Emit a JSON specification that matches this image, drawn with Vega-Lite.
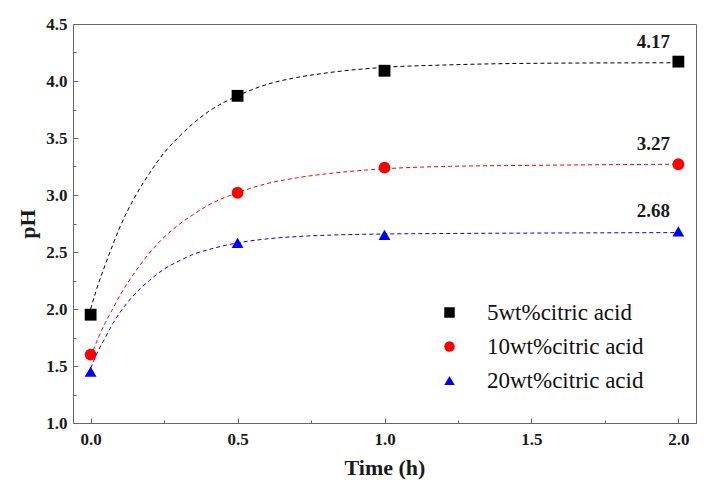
{
  "$schema": "https://vega.github.io/schema/vega-lite/v6.json",
  "width": 623,
  "height": 399,
  "autosize": {"type": "none"},
  "padding": {"left": 73, "top": 24, "right": 16, "bottom": 72},
  "background": "white",
  "config": {
    "view": {"stroke": "#666", "strokeWidth": 1},
    "font": "Liberation Serif",
    "axis": {
      "grid": false,
      "domainColor": "#666",
      "tickColor": "#666",
      "labelFlush": false,
      "labelFont": "Liberation Serif",
      "labelFontSize": 17,
      "labelFontWeight": "bold",
      "labelColor": "#1a1a1a",
      "titleFont": "Liberation Serif",
      "titleFontSize": 22,
      "titleFontWeight": "bold",
      "titleColor": "#1a1a1a"
    }
  },
  "datasets": {
    "points": [
      {"series": "5wt%citric acid", "t": 0, "ph": 1.95},
      {"series": "5wt%citric acid", "t": 0.5, "ph": 3.87},
      {"series": "5wt%citric acid", "t": 1, "ph": 4.09},
      {"series": "5wt%citric acid", "t": 2, "ph": 4.17},
      {"series": "10wt%citric acid", "t": 0, "ph": 1.60},
      {"series": "10wt%citric acid", "t": 0.5, "ph": 3.02},
      {"series": "10wt%citric acid", "t": 1, "ph": 3.24},
      {"series": "10wt%citric acid", "t": 2, "ph": 3.27},
      {"series": "20wt%citric acid", "t": 0, "ph": 1.45},
      {"series": "20wt%citric acid", "t": 0.5, "ph": 2.58},
      {"series": "20wt%citric acid", "t": 1, "ph": 2.65},
      {"series": "20wt%citric acid", "t": 2, "ph": 2.68}
    ],
    "fit": [
      {"series": "5wt%citric acid", "t": 0, "ph": 2.00},
      {"series": "5wt%citric acid", "t": 0.025, "ph": 2.21},
      {"series": "5wt%citric acid", "t": 0.05, "ph": 2.39},
      {"series": "5wt%citric acid", "t": 0.075, "ph": 2.56},
      {"series": "5wt%citric acid", "t": 0.1, "ph": 2.72},
      {"series": "5wt%citric acid", "t": 0.15, "ph": 2.98},
      {"series": "5wt%citric acid", "t": 0.2, "ph": 3.19},
      {"series": "5wt%citric acid", "t": 0.25, "ph": 3.37},
      {"series": "5wt%citric acid", "t": 0.3, "ph": 3.51},
      {"series": "5wt%citric acid", "t": 0.35, "ph": 3.63},
      {"series": "5wt%citric acid", "t": 0.4, "ph": 3.73},
      {"series": "5wt%citric acid", "t": 0.5, "ph": 3.87},
      {"series": "5wt%citric acid", "t": 0.6, "ph": 3.97},
      {"series": "5wt%citric acid", "t": 0.7, "ph": 4.03},
      {"series": "5wt%citric acid", "t": 0.8, "ph": 4.07},
      {"series": "5wt%citric acid", "t": 1.0, "ph": 4.12},
      {"series": "5wt%citric acid", "t": 1.2, "ph": 4.14},
      {"series": "5wt%citric acid", "t": 1.5, "ph": 4.155},
      {"series": "5wt%citric acid", "t": 2.0, "ph": 4.16},
      {"series": "10wt%citric acid", "t": 0, "ph": 1.58},
      {"series": "10wt%citric acid", "t": 0.025, "ph": 1.74},
      {"series": "10wt%citric acid", "t": 0.05, "ph": 1.88},
      {"series": "10wt%citric acid", "t": 0.075, "ph": 2.00},
      {"series": "10wt%citric acid", "t": 0.1, "ph": 2.12},
      {"series": "10wt%citric acid", "t": 0.15, "ph": 2.32},
      {"series": "10wt%citric acid", "t": 0.2, "ph": 2.49},
      {"series": "10wt%citric acid", "t": 0.25, "ph": 2.63},
      {"series": "10wt%citric acid", "t": 0.3, "ph": 2.74},
      {"series": "10wt%citric acid", "t": 0.35, "ph": 2.83},
      {"series": "10wt%citric acid", "t": 0.4, "ph": 2.91},
      {"series": "10wt%citric acid", "t": 0.5, "ph": 3.02},
      {"series": "10wt%citric acid", "t": 0.6, "ph": 3.10},
      {"series": "10wt%citric acid", "t": 0.7, "ph": 3.15},
      {"series": "10wt%citric acid", "t": 0.8, "ph": 3.185},
      {"series": "10wt%citric acid", "t": 1.0, "ph": 3.23},
      {"series": "10wt%citric acid", "t": 1.2, "ph": 3.25},
      {"series": "10wt%citric acid", "t": 1.5, "ph": 3.26},
      {"series": "10wt%citric acid", "t": 2.0, "ph": 3.27},
      {"series": "20wt%citric acid", "t": 0, "ph": 1.48},
      {"series": "20wt%citric acid", "t": 0.025, "ph": 1.63},
      {"series": "20wt%citric acid", "t": 0.05, "ph": 1.75},
      {"series": "20wt%citric acid", "t": 0.075, "ph": 1.87},
      {"series": "20wt%citric acid", "t": 0.1, "ph": 1.97},
      {"series": "20wt%citric acid", "t": 0.15, "ph": 2.13},
      {"series": "20wt%citric acid", "t": 0.2, "ph": 2.25},
      {"series": "20wt%citric acid", "t": 0.25, "ph": 2.35},
      {"series": "20wt%citric acid", "t": 0.3, "ph": 2.42},
      {"series": "20wt%citric acid", "t": 0.35, "ph": 2.48},
      {"series": "20wt%citric acid", "t": 0.4, "ph": 2.52},
      {"series": "20wt%citric acid", "t": 0.5, "ph": 2.58},
      {"series": "20wt%citric acid", "t": 0.6, "ph": 2.615},
      {"series": "20wt%citric acid", "t": 0.7, "ph": 2.635},
      {"series": "20wt%citric acid", "t": 0.8, "ph": 2.647},
      {"series": "20wt%citric acid", "t": 1.0, "ph": 2.658},
      {"series": "20wt%citric acid", "t": 1.2, "ph": 2.662},
      {"series": "20wt%citric acid", "t": 1.5, "ph": 2.666},
      {"series": "20wt%citric acid", "t": 2.0, "ph": 2.67}
    ]
  },
  "layer": [
    {
      "data": {"name": "fit"},
      "transform": [{"filter": "datum.series === '5wt%citric acid'"}],
      "mark": {"type": "line", "interpolate": "monotone", "strokeDash": [4, 3], "strokeWidth": 1, "stroke": "#000000"},
      "encoding": {
        "x": {
          "field": "t", "type": "quantitative",
          "scale": {"domain": [-0.06, 2.06], "nice": false, "zero": false},
          "axis": {"orient": "bottom", "values": [0, 0.5, 1, 1.5, 2], "format": ".1f", "tickSize": -5, "labelPadding": 13, "title": "Time (h)", "titlePadding": 10}
        },
        "y": {
          "field": "ph", "type": "quantitative",
          "scale": {"domain": [1, 4.5], "nice": false, "zero": false},
          "axis": {"orient": "left", "values": [1, 1.5, 2, 2.5, 3, 3.5, 4, 4.5], "format": ".1f", "tickSize": -5, "labelPadding": 11, "title": "pH", "titlePadding": 6}
        }
      }
    },
    {
      "data": {"name": "fit"},
      "transform": [{"filter": "datum.series === '10wt%citric acid'"}],
      "mark": {"type": "line", "interpolate": "monotone", "strokeDash": [4, 3], "strokeWidth": 1, "stroke": "#ff0000"},
      "encoding": {
        "x": {"field": "t", "type": "quantitative", "scale": {"domain": [-0.06, 2.06], "nice": false, "zero": false}, "axis": null},
        "y": {"field": "ph", "type": "quantitative", "scale": {"domain": [1, 4.5], "nice": false, "zero": false}, "axis": null}
      }
    },
    {
      "data": {"name": "fit"},
      "transform": [{"filter": "datum.series === '20wt%citric acid'"}],
      "mark": {"type": "line", "interpolate": "monotone", "strokeDash": [4, 3], "strokeWidth": 1, "stroke": "#0000ff"},
      "encoding": {
        "x": {"field": "t", "type": "quantitative", "scale": {"domain": [-0.06, 2.06], "nice": false, "zero": false}, "axis": null},
        "y": {"field": "ph", "type": "quantitative", "scale": {"domain": [1, 4.5], "nice": false, "zero": false}, "axis": null}
      }
    },
    {
      "data": {"name": "points"},
      "mark": {"type": "point", "filled": true, "size": 140, "opacity": 1},
      "encoding": {
        "x": {
          "field": "t", "type": "quantitative",
          "scale": {"domain": [-0.06, 2.06], "nice": false, "zero": false},
          "axis": {"orient": "bottom", "values": [0.25, 0.75, 1.25, 1.75], "labels": false, "domain": false, "tickSize": -3, "title": null}
        },
        "y": {
          "field": "ph", "type": "quantitative",
          "scale": {"domain": [1, 4.5], "nice": false, "zero": false},
          "axis": {"orient": "left", "values": [1.25, 1.75, 2.25, 2.75, 3.25, 3.75, 4.25], "labels": false, "domain": false, "tickSize": -3, "title": null}
        },
        "color": {
          "field": "series", "type": "nominal",
          "scale": {"domain": ["5wt%citric acid", "10wt%citric acid", "20wt%citric acid"], "range": ["#000000", "#ff0000", "#0000ff"]},
          "legend": {"title": null, "orient": "none", "legendX": 365, "legendY": 277, "labelFont": "Liberation Serif", "labelFontSize": 23, "labelColor": "#111", "labelOffset": 26, "rowPadding": 10, "symbolSize": 110}
        },
        "shape": {
          "field": "series", "type": "nominal",
          "scale": {"domain": ["5wt%citric acid", "10wt%citric acid", "20wt%citric acid"], "range": ["square", "circle", "triangle-up"]},
          "legend": {"title": null, "orient": "none", "legendX": 365, "legendY": 277, "labelFont": "Liberation Serif", "labelFontSize": 23, "labelColor": "#111", "labelOffset": 26, "rowPadding": 10, "symbolSize": 110}
        }
      }
    },
    {
      "data": {"name": "points"},
      "transform": [{"filter": "datum.t == 2"}],
      "mark": {"type": "text", "dx": -25, "dy": -20, "font": "Liberation Serif", "fontSize": 19, "fontWeight": "bold", "color": "#1a1a1a"},
      "encoding": {
        "x": {"field": "t", "type": "quantitative", "scale": {"domain": [-0.06, 2.06], "nice": false, "zero": false}, "axis": null},
        "y": {"field": "ph", "type": "quantitative", "scale": {"domain": [1, 4.5], "nice": false, "zero": false}, "axis": null},
        "text": {"field": "ph", "type": "quantitative", "format": ".2f"}
      }
    }
  ],
  "resolve": {"axis": {"x": "independent", "y": "independent"}}
}
